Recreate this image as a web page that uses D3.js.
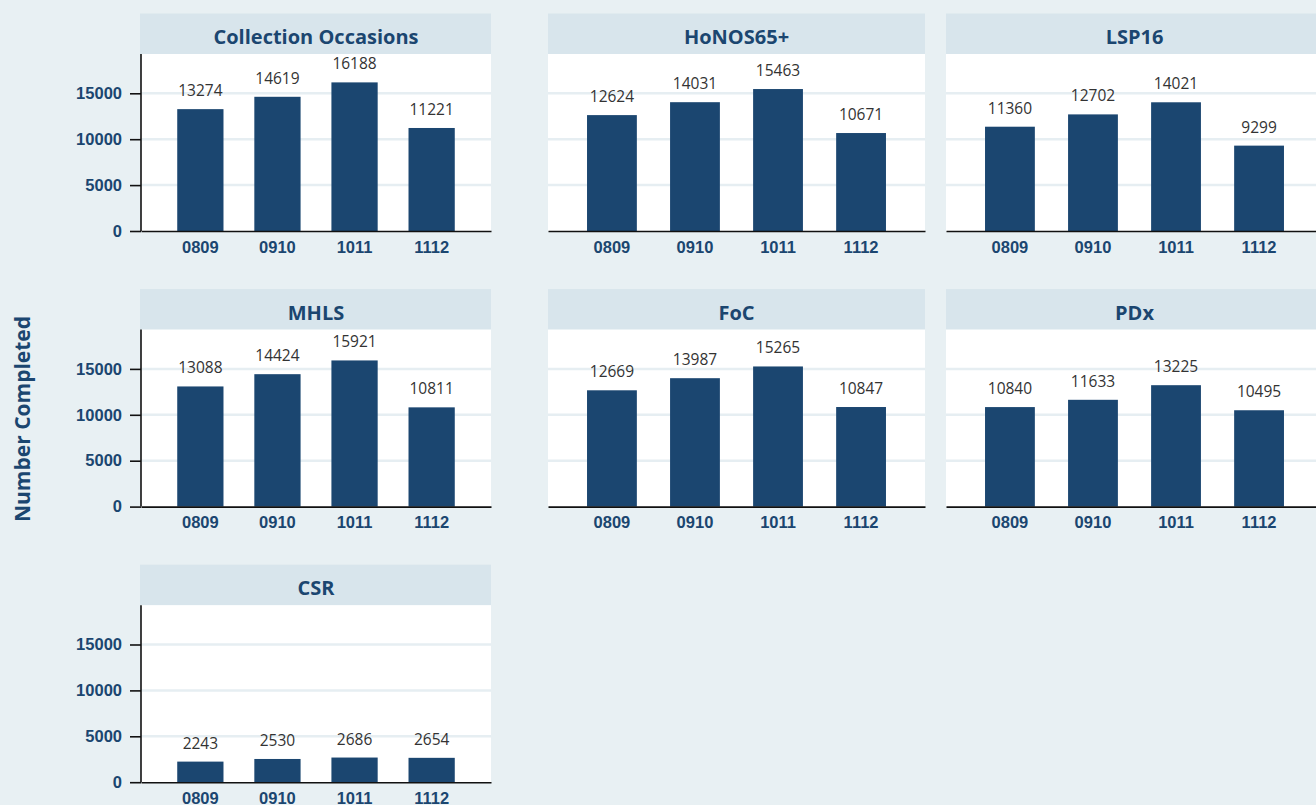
<!DOCTYPE html>
<html>
<head>
<meta charset="utf-8">
<script src="https://cdn.jsdelivr.net/npm/d3@7"></script>
<style>
	html, body { margin: 0; padding: 0; background: #e8f0f3; overflow: hidden; }
	svg { display: block; font-family: "Open Sans", "Noto Sans", sans-serif; }
</style>
</head>
<body>
<svg id="chart" width="1316" height="805"></svg>
<script>
// data
const years = ["0809", "0910", "1011", "1112"];
const measures = ["Collection Occasions", "HoNOS65+", "LSP16", "MHLS", "FoC", "PDx", "CSR"];
const collection = [13274, 14619, 16188, 11221];
const honos65 = [12624, 14031, 15463, 10671];
const lsp16 = [11360, 12702, 14021, 9299];
const mhls = [13088, 14424, 15921, 10811];
const foc = [12669, 13987, 15265, 10847];
const pdx = [10840, 11633, 13225, 10495];
const csr = [2243, 2530, 2686, 2654];
const yTicks = [0, 5000, 10000, 15000];

const series = [collection, honos65, lsp16, mhls, foc, pdx, csr];

const barColor = "#1b4670";
const textColor = "#1b4670";
const stripColor = "#d8e5ec";
const gridColor = "#e6eef2";

// panel layout (columns are not equally wide in the reference)
const cols = [[141, 491], [548, 925], [946, 1323]];
const rowTop = 13.5;      // top of the first strip
const rowPitch = 275.6;
const stripH = 40.5;
const plotH = 177;

const chart = d3.select("#chart");

const y = d3.scaleLinear().domain([0, 19280]).range([plotH, 0]);

measures.forEach((name, i) => {
	const col = i % 3, row = Math.floor(i / 3);
	const [x0, x1] = cols[col];
	const top = rowTop + row * rowPitch;
	const g = chart.append("g").attr("transform", `translate(${x0},${top})`);
	const w = x1 - x0;

	// strip with the measure name
	g.append("rect").attr("x", col === 0 ? -1 : 0).attr("width", w + (col === 0 ? 1 : 0)).attr("height", stripH).attr("fill", stripColor);
	g.append("text").attr("x", w / 2).attr("y", 30.5).attr("text-anchor", "middle")
		.attr("font-size", 20).attr("font-weight", 700).attr("fill", textColor).text(name);

	const plot = g.append("g").attr("transform", `translate(0,${stripH})`);
	plot.append("rect").attr("width", w).attr("height", plotH).attr("fill", "#fff");

	// grid lines go under the bars
	plot.append("g").selectAll("line").data(yTicks.slice(1)).enter().append("line")
		.attr("x1", 0).attr("x2", w).attr("y1", d => y(d)).attr("y2", d => y(d))
		.attr("stroke", gridColor).attr("stroke-width", 2.5);

	const x = d3.scaleBand().domain(years).range([0, w]).paddingInner(0.4).paddingOuter(0.47);
	const vals = series[i];

	plot.append("g").selectAll("rect").data(vals).enter().append("rect")
		.attr("x", (d, k) => x(years[k])).attr("width", x.bandwidth())
		.attr("y", d => y(d)).attr("height", d => plotH - y(d))
		.attr("fill", barColor);

	plot.append("g").selectAll("text").data(vals).enter().append("text")
		.attr("x", (d, k) => x(years[k]) + x.bandwidth() / 2).attr("y", d => y(d) - 13)
		.attr("text-anchor", "middle").attr("font-size", 15.5).attr("fill", "#333").text(d => d);

	// x axis
	const xa = plot.append("g").attr("transform", `translate(0,${plotH})`)
		.call(d3.axisBottom(x).tickSize(0).tickPadding(10).tickSizeOuter(0));
	xa.select(".domain").attr("stroke", "#111").attr("stroke-width", 1.6);
	xa.selectAll("text").attr("font-size", 16.5).attr("font-weight", 700).attr("fill", textColor).attr("font-family", null);

	// y axis only on the first column
	if(col === 0) {
		const ya = plot.append("g").call(d3.axisLeft(y).tickValues(yTicks).tickFormat(d3.format("d")).tickSize(11).tickPadding(8).tickSizeOuter(0));
		ya.selectAll(".domain, line").attr("stroke", "#111").attr("stroke-width", 1.6);
		ya.selectAll("text").attr("font-size", 16.5).attr("font-weight", 700).attr("fill", textColor).attr("font-family", null);
		ya.select(".domain").attr("d", `M0,${plotH}V0`);
	}
});

// shared y axis title
chart.append("text").attr("transform", "translate(30,419) rotate(-90)").attr("text-anchor", "middle")
	.attr("font-size", 21).attr("font-weight", 700).attr("fill", textColor).text("Number Completed");
</script>
</body>
</html>
